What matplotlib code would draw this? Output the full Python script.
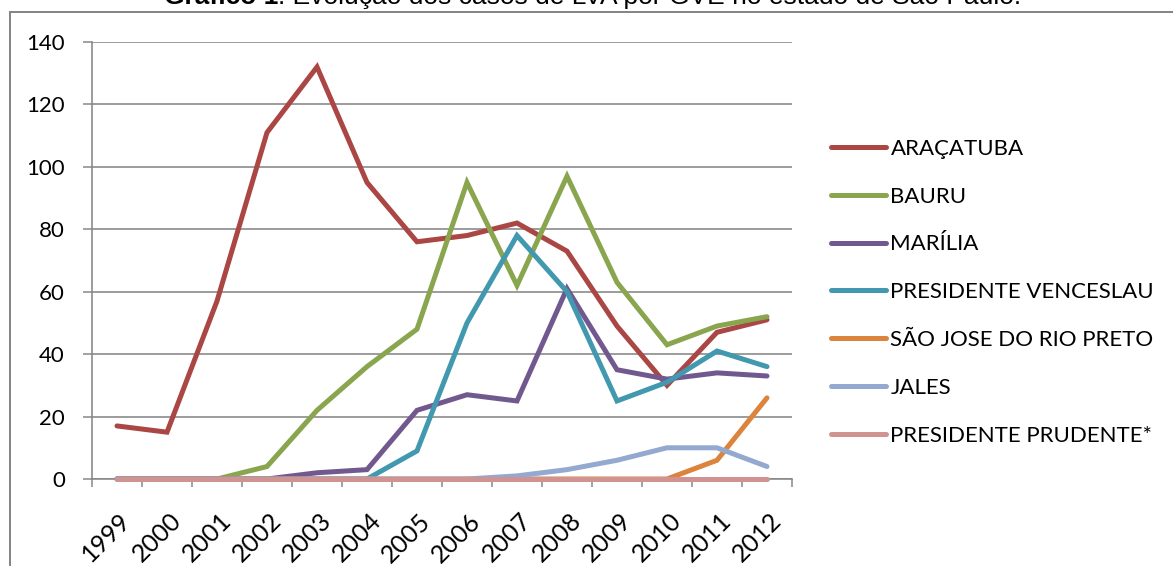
import matplotlib
matplotlib.use("Agg")
import matplotlib.pyplot as plt
import matplotlib.transforms as mtransforms
from matplotlib.lines import Line2D

# data
years = ["1999", "2000", "2001", "2002", "2003", "2004", "2005",
         "2006", "2007", "2008", "2009", "2010", "2011", "2012"]
aracatuba = [17, 15, 57, 111, 132, 95, 76, 78, 82, 73, 49, 30, 47, 51]
bauru = [0, 0, 0, 4, 22, 36, 48, 95, 62, 97, 63, 43, 49, 52]
marilia = [0, 0, 0, 0, 2, 3, 22, 27, 25, 61, 35, 32, 34, 33]
pres_venceslau = [0, 0, 0, 0, 0, 0, 9, 50, 78, 60, 25, 31, 41, 36]
sao_jose = [0, 0, 0, 0, 0, 0, 0, 0, 0, 0, 0, 0, 6, 26]
jales = [0, 0, 0, 0, 0, 0, 0, 0, 1, 3, 6, 10, 10, 4]
pres_prudente = [0, 0, 0, 0, 0, 0, 0, 0, 0, 0, 0, 0, 0, 0]

series = [
    ("ARAÇATUBA", aracatuba, "#AA4643"),
    ("BAURU", bauru, "#89A54E"),
    ("MARÍLIA", marilia, "#71588F"),
    ("PRESIDENTE VENCESLAU", pres_venceslau, "#4198AF"),
    ("SÃO JOSE DO RIO PRETO", sao_jose, "#DB843D"),
    ("JALES", jales, "#93A9CF"),
    ("PRESIDENTE PRUDENTE*", pres_prudente, "#D19392"),
]

plt.rcParams['font.family'] = ['Lato', 'DejaVu Sans']
grey = "#868686"
px = 0.72  # one pixel in points at dpi 100

W, H = 1173, 566
fig = plt.figure(figsize=(W / 100, H / 100), dpi=100)
ax = fig.add_axes([92 / W, 1 - 479 / H, 700 / W, 437 / H])

x = list(range(len(years)))
for name, vals, col in series:
    ax.plot(x, vals, color=col, lw=5 * px, label=name, solid_capstyle="round",
            solid_joinstyle="miter", clip_on=False, zorder=3)

ax.set_xlim(-0.5, len(years) - 0.5)
ax.set_ylim(0, 140)
ax.set_yticks(range(0, 141, 20))
# ticks sit between categories, labels at the categories
ax.set_xticks([i - 0.5 for i in range(len(years) + 1)])
ax.set_xticklabels([])
ax.set_xticks(x, minor=True)
ax.set_xticklabels(years, minor=True, rotation=45, ha="right",
                   rotation_mode="anchor", fontsize=18)
ax.tick_params(axis="x", which="minor", length=0, pad=30 * px)
ax.tick_params(axis="x", which="major", length=8 * px, width=1.5 * px, color=grey)
ax.tick_params(axis="y", length=9 * px, width=1.5 * px, color=grey,
               labelsize=16, pad=18 * px)
shift = mtransforms.ScaledTranslation(2 / 100, 0, fig.dpi_scale_trans)
for lab in ax.get_xticklabels(minor=True):
    lab.set_transform(lab.get_transform() + shift)

ax.yaxis.grid(True, color=grey, lw=1.6 * px)
ax.set_axisbelow(True)
for side in ["top", "right"]:
    ax.spines[side].set_visible(False)
for side in ["left", "bottom"]:
    ax.spines[side].set_color(grey)
    ax.spines[side].set_linewidth(1.6 * px)

leg = ax.legend(loc="upper left", bbox_to_anchor=(822 / W, 1 - 130 / H),
                bbox_transform=fig.transFigure, frameon=False, fontsize=16,
                handlelength=2.5, handletextpad=0.18, labelspacing=1.25,
                borderaxespad=0)

# outer frame of the chart object
fig.add_artist(Line2D([10 / W, 1], [1 - 12 / H, 1 - 12 / H], color=grey, lw=2 * px))
fig.add_artist(Line2D([10 / W, 10 / W], [0, 1 - 12 / H], color=grey, lw=2 * px))

# caption, cut at the top edge in the original
fig.canvas.draw()
r = fig.canvas.get_renderer()
t1 = fig.text(164 / W, 1 - 4 / H, "Gráfico 1", family="Liberation Sans",
              weight="bold", fontsize=19, va="baseline")
bb = t1.get_window_extent(renderer=r)
fig.text(bb.x1 / W, 1 - 4 / H,
         ": Evolução dos casos de LVA por GVE no estado de São Paulo.",
         family="Liberation Sans", fontsize=19, va="baseline")

fig.savefig("out.png", dpi=100)
